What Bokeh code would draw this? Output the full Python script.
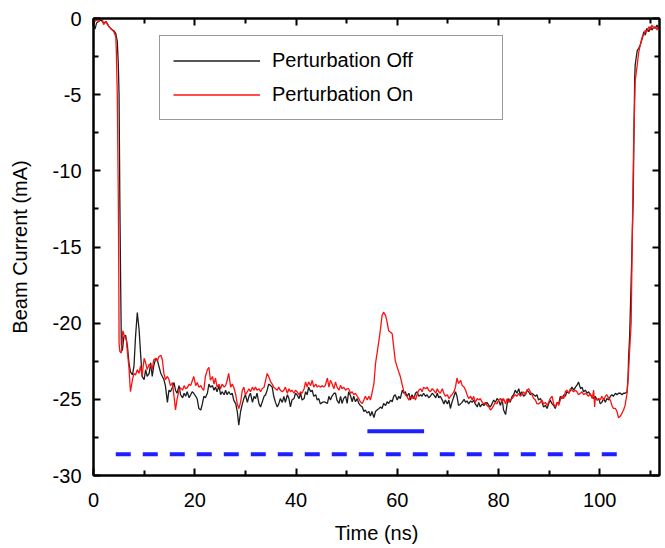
from bokeh.plotting import figure
from bokeh.models import LinearAxis, Range1d, Legend, LegendItem, FixedTicker
from bokeh.embed import file_html
from bokeh.resources import INLINE

# ---------------- data ----------------
# Perturbation Off (black trace): time (ns) and beam current (mA)
off_t = [
    0.0, 0.3, 0.6, 1.0, 1.5, 2.0, 2.5, 3.0, 3.5, 4.0,
    4.4, 4.7, 4.9, 5.05, 5.2, 5.35, 5.5, 5.7, 6.0, 6.35,
    6.7, 7.0, 7.3, 7.7, 8.0, 8.3, 8.65, 9.0, 9.3, 9.6,
    10.0, 10.3, 10.6, 11.0, 11.3, 11.6, 11.9, 12.3, 12.6, 12.9,
    13.3, 13.6, 13.9, 14.2, 14.6, 14.9, 15.2, 15.6, 15.9, 16.2,
    16.5, 16.9, 17.2, 17.6, 17.9, 18.2, 18.5, 18.9, 19.2, 19.5,
    19.8, 20.2, 20.5, 20.8, 21.2, 21.5, 21.8, 22.1, 22.5,
    22.8, 23.1, 23.5, 23.8, 24.1, 24.4, 24.8, 25.1, 25.4, 25.8,
    26.1, 26.4, 26.7, 27.1, 27.4, 27.7, 28.1, 28.4, 28.7, 29.05,
    29.4, 29.7, 30.0, 30.4, 30.7, 31.0, 31.4, 31.7, 32.0, 32.3,
    32.7, 33.0, 33.3, 33.7, 34.0, 34.3, 34.6, 35.0, 35.3, 35.6,
    35.95, 36.3, 36.6, 36.9, 37.3, 37.6, 37.9, 38.3, 38.6, 38.9,
    39.2, 39.6, 39.9, 40.2, 40.6, 40.9, 41.2, 41.6, 41.9, 42.2,
    42.5, 42.9, 43.2, 43.5, 43.9, 44.2, 44.5, 44.8, 45.2,
    45.5, 45.8, 46.2, 46.5, 46.8, 47.1, 47.5, 47.8, 48.1, 48.5,
    48.8, 49.1, 49.4, 49.8, 50.1, 50.4, 50.8, 51.1, 51.4, 51.75,
    52.1, 52.4, 52.7, 53.1, 53.4, 53.7, 54.05, 54.4, 54.7, 55.0,
    55.4, 55.7, 56.0, 56.4, 56.7, 57.0, 57.3, 57.7, 58.0, 58.3,
    58.7, 59.0, 59.3, 59.6, 60.0, 60.3, 60.6, 61.0, 61.3, 61.6,
    61.9, 62.3, 62.6, 62.9, 63.3, 63.6, 63.9, 64.25, 64.6, 64.9,
    65.2, 65.6, 65.9, 66.2, 66.55, 66.9, 67.2, 67.6, 67.9, 68.2,
    68.5,
    68.9, 69.2, 69.5, 69.9, 70.2, 70.5, 70.8, 71.2, 71.5, 71.8,
    72.1, 72.5, 72.8, 73.2, 73.5, 73.8, 74.1, 74.5, 74.8, 75.1,
    75.4, 75.8, 76.1, 76.4, 76.8, 77.1, 77.4, 77.7, 78.1, 78.4,
    78.7, 79.05, 79.4, 79.7, 80.0, 80.4, 80.7, 81.0, 81.4, 81.7,
    82.0, 82.3, 82.7, 83.0, 83.3, 83.65, 84.0, 84.3, 84.6, 84.95,
    85.3, 85.6, 85.95, 86.3, 86.6, 86.95, 87.3, 87.6, 87.9, 88.3,
    88.6, 88.9, 89.25, 89.6, 89.9, 90.2, 90.6,
    90.9, 91.2, 91.6, 91.9, 92.2, 92.5, 92.9, 93.2, 93.5, 93.9,
    94.2, 94.5, 94.85, 95.2, 95.5, 95.8, 96.2, 96.5, 96.8, 97.15,
    97.5, 97.8, 98.1, 98.5, 98.8, 99.1, 99.5, 99.8, 100.1, 100.4,
    100.8, 101.1, 101.4, 101.8, 102.1, 102.4, 102.7, 103.1, 103.4, 103.7,
    104.1, 104.4, 104.7, 105.0, 105.4, 105.6, 105.7, 105.9, 106.3, 106.6,
    106.9, 107.0, 107.4, 107.7, 108.0, 108.4, 108.7, 109.0, 109.3, 109.7,
    110.0, 110.3, 110.7, 111.0, 111.3, 111.6,
]
off_i = [
    -0.4, -0.7, -0.3, -0.2, -0.1, -0.3, -0.2, -0.5, -0.7, -0.8,
    -1.0, -1.5, -3.0, -5.0, -11.8, -17.0, -21.4, -21.8, -20.9, -20.8,
    -21.5, -22.6, -23.2, -23.4, -22.8, -20.9, -19.3, -20.4, -22.0, -23.5,
    -23.7, -23.05, -23.5, -23.3, -22.6, -23.5, -22.8, -22.3, -22.4, -22.8,
    -23.3, -23.5, -23.7, -24.1, -25.2, -24.4, -24.5, -24.2, -23.9, -24.4,
    -24.6, -24.1, -24.7, -24.9, -24.6, -24.8, -24.5, -24.9, -24.7, -24.5,
    -24.6, -24.8, -25.0, -25.6, -25.7, -25.3, -24.8, -24.9, -24.6,
    -24.0, -24.2, -24.1, -24.4, -24.2, -24.5, -24.1, -24.7, -24.5, -24.7,
    -24.4, -24.7, -24.5, -24.7, -24.6, -25.05, -25.3, -25.8, -26.7, -25.8,
    -25.3, -24.95, -24.7, -25.2, -24.8, -24.6, -25.2, -24.8, -24.95, -24.6,
    -25.3, -25.5, -25.2, -24.8, -24.7, -24.4, -24.0, -24.1, -24.2, -24.8,
    -25.2, -25.5, -25.3, -24.95, -25.2, -24.8, -25.2, -24.7, -24.95, -25.5,
    -25.05, -24.95, -24.6, -24.7, -24.95, -24.6, -25.05, -24.95, -24.5, -24.7,
    -24.2, -24.5, -24.4, -24.8, -24.7, -25.05, -24.95, -25.3, -25.2,
    -25.16, -25.2, -25.27, -24.8, -25.05, -24.8, -24.6, -24.6, -25.05, -25.27,
    -24.8, -25.27, -24.95, -24.8, -25.27, -24.5, -24.8, -25.16, -24.8, -25.16,
    -24.95, -25.27, -25.4, -25.5, -25.8, -25.7, -25.9, -25.8, -26.1, -25.8,
    -26.2, -25.8, -25.7, -25.6, -25.5, -25.6, -25.27, -25.4, -25.16, -25.27,
    -25.05, -25.16, -24.8, -24.7, -25.05, -24.8, -24.95, -24.4, -24.6, -24.5,
    -24.8, -24.6, -25.05, -24.7, -24.95, -24.6, -24.5, -24.8, -24.7, -24.8,
    -24.6, -24.8, -24.7, -24.9, -24.8, -24.6, -24.7, -24.9, -24.6, -24.9,
    -24.8,
    -25.05, -25.3, -25.05, -25.3, -25.05, -25.6, -25.2, -24.8, -24.5, -24.8,
    -25.4, -25.3, -25.2, -25.0, -25.2, -25.1, -25.3, -25.1, -25.2, -25.05,
    -25.3, -25.5, -25.2, -25.5, -25.3, -25.4, -25.3, -25.2, -25.4, -25.5,
    -25.3, -25.05, -25.2, -24.95, -25.05, -25.4, -24.95, -25.7, -26.0, -25.3,
    -24.95, -25.2, -24.8, -24.7, -24.4, -24.6, -24.3, -24.7, -24.5, -24.8,
    -24.7, -24.4, -24.5, -24.7, -24.6, -24.7, -24.8, -24.7, -25.05, -24.95,
    -25.2, -25.5, -25.4, -25.6, -25.3, -25.05, -25.3,
    -25.4, -25.6, -25.2, -25.3, -24.8, -24.95, -24.7, -24.8, -24.5, -24.6,
    -24.4, -24.2, -24.4, -24.2, -24.07, -23.86, -24.3, -24.2, -24.5, -24.4,
    -24.6, -24.5, -24.7, -24.8, -24.95, -24.8, -25.05, -24.95, -25.3, -25.2,
    -24.95, -25.2, -24.95, -25.05, -24.8, -24.7, -24.8, -24.6, -24.7, -24.6,
    -24.6, -24.7, -24.6, -24.6, -24.5, -23.5, -22.2, -20.9, -16.0, -11.8,
    -3.9, -3.05, -2.1, -1.96, -1.74, -1.3, -0.87, -1.09, -0.65, -0.87,
    -0.54, -0.76, -0.54, -0.65, -0.43, -0.65,
]

# Perturbation On (red trace)
on_t = [
    0.0, 0.5, 1.0, 1.3, 1.7, 2.0, 2.4, 2.8, 3.1, 3.7,
    4.05, 4.4, 4.5, 4.7, 4.9, 5.0, 5.05, 5.2, 5.5, 5.8,
    6.15, 6.5, 6.7, 7.0, 7.3, 7.7, 8.0, 8.3, 8.65, 9.0,
    9.3, 9.6, 10.0, 10.3, 10.6, 11.0, 11.3, 11.6, 11.9, 12.3,
    12.6, 12.9, 13.3, 13.6, 13.9, 14.2, 14.6, 14.9, 15.2, 15.6,
    15.9, 16.2, 16.5, 16.9, 17.2, 17.6, 17.9, 18.2, 18.5, 18.9,
    19.2, 19.5, 19.8, 20.2, 20.5, 20.8, 21.2, 21.5, 21.8, 22.1,
    22.5,
    22.8, 23.1, 23.5, 23.8, 24.1, 24.4, 24.8, 25.1, 25.4, 25.8,
    26.1, 26.4, 26.7, 27.1, 27.4, 27.7, 28.1, 28.4, 28.7, 29.05,
    29.4, 29.7, 30.0, 30.4, 30.7, 31.0, 31.4, 31.7, 32.0, 32.3,
    32.7, 33.0, 33.3, 33.7, 34.0, 34.3, 34.6, 35.0, 35.3, 35.6,
    35.95, 36.3, 36.6, 36.9, 37.3, 37.6, 37.9, 38.3, 38.6, 38.9,
    39.2, 39.6, 39.9, 40.2, 40.6, 40.9, 41.2, 41.6, 41.9, 42.2,
    42.5, 42.9, 43.2, 43.5, 43.9, 44.2, 44.5, 44.8, 45.2,
    45.5, 45.8, 46.2, 46.5, 46.8, 47.1, 47.5, 47.8, 48.1, 48.5,
    48.8, 49.1, 49.4, 49.8, 50.1, 50.4, 50.8, 51.1, 51.4, 51.75,
    52.1, 52.4, 52.7, 53.1, 53.4, 53.7, 54.05, 54.4, 54.7, 55.0,
    55.4, 55.7, 56.0, 56.4, 56.7, 57.0, 57.3, 57.7, 58.0, 58.3,
    58.7, 59.0, 59.3, 59.6, 60.0, 60.3, 60.6, 61.0, 61.3, 61.6,
    61.9, 62.3, 62.6, 62.9, 63.3, 63.6, 63.9, 64.25, 64.6, 64.9,
    65.2, 65.6, 65.9, 66.2, 66.55, 66.9, 67.2, 67.6, 67.9, 68.2,
    68.5,
    68.9, 69.2, 69.5, 69.9, 70.2, 70.5, 70.8, 71.2, 71.5, 71.8,
    72.1, 72.5, 72.8, 73.2, 73.5, 73.8, 74.1, 74.5, 74.8, 75.1,
    75.4, 75.8, 76.1, 76.4, 76.8, 77.1, 77.4, 77.7, 78.1, 78.4,
    78.7, 79.05, 79.4, 79.7, 80.0, 80.4, 80.7, 81.0, 81.4, 81.7,
    82.0, 82.3, 82.7, 83.0, 83.3, 83.65, 84.0, 84.3, 84.6, 84.95,
    85.3, 85.6, 85.95, 86.3, 86.6, 86.95, 87.3, 87.6, 87.9, 88.3,
    88.6, 88.9, 89.25, 89.6, 89.9, 90.2, 90.6,
    90.9, 91.2, 91.6, 91.9, 92.2, 92.5, 92.9, 93.2, 93.5, 93.9,
    94.2, 94.5, 94.85, 95.2, 95.5, 95.8, 96.2, 96.5, 96.8, 97.15,
    97.5, 97.8, 98.1, 98.5, 98.8, 99.0, 99.1, 99.5, 99.8, 100.1,
    100.4, 100.8, 101.1, 101.4, 101.8, 102.1, 102.4, 102.7, 103.1, 103.4,
    103.7, 104.1, 104.4, 104.7, 105.0, 105.4, 105.7, 105.9, 106.2, 106.45,
    106.7, 107.0, 107.4, 107.7, 108.0, 108.4, 108.7, 109.0, 109.3, 109.7,
    110.0, 110.3, 110.7, 111.0, 111.3, 111.6,
]
on_i = [
    -0.3, -0.1, -0.2, 0.0, 0.0, -0.4, -0.2, -0.4, -0.55, -0.75,
    -0.9, -1.2, -2.0, -5.0, -11.8, -17.0, -21.3, -21.85, -21.96, -20.5,
    -20.9, -21.1, -21.9, -22.9, -24.5, -23.7, -23.3, -23.4, -23.05, -23.3,
    -22.8, -23.5, -22.3, -22.6, -23.05, -22.7, -22.8, -23.05, -22.4, -22.3,
    -22.5, -22.2, -22.1, -22.4, -23.3, -23.7, -23.5, -23.7, -24.1, -23.9,
    -24.8, -25.7, -25.0, -24.4, -24.25, -24.4, -24.1, -24.3, -24.25, -24.0,
    -24.1, -23.8, -23.5, -24.1, -23.9, -24.2, -24.1, -24.3, -24.4, -23.5,
    -23.05,
    -22.9, -23.75, -23.5, -24.0, -23.6, -24.2, -24.0, -24.3, -24.0, -24.2,
    -24.1, -23.75, -23.3, -24.2, -24.0, -24.2, -24.7, -25.3, -25.6, -25.2,
    -24.4, -24.2, -24.7, -24.5, -24.3, -24.5, -24.2, -24.4, -24.2, -24.4,
    -24.3, -24.5, -24.3, -24.2, -23.75, -23.3, -23.5, -23.86, -24.0, -24.2,
    -24.3, -24.4, -24.2, -24.4, -24.5, -24.4, -24.2, -24.6, -24.3, -24.5,
    -24.4, -24.6, -24.4, -24.5, -24.7, -24.5, -24.6, -24.3, -23.86, -24.2,
    -23.86, -24.1, -23.75, -24.2, -24.0, -24.2, -24.1, -24.2, -24.1,
    -24.2, -24.07, -23.6, -24.2, -23.75, -23.96, -24.3, -23.86, -24.2, -24.4,
    -24.07, -24.3, -24.2, -24.4, -24.3, -24.3, -24.6, -24.5, -24.7, -24.6,
    -24.8, -24.95, -25.16, -25.27, -25.05, -24.8, -25.05, -24.8, -25.05, -24.6,
    -23.96, -22.66, -22.0, -21.1, -20.37, -19.5, -19.28, -19.5, -19.93, -20.5,
    -20.6, -20.7, -21.57, -22.44, -22.9, -23.2, -23.5, -24.07, -24.5, -24.7,
    -24.8, -25.05, -24.8, -24.95, -24.8, -25.05, -24.7, -24.4, -24.3, -24.5,
    -24.2, -24.3, -24.2, -24.4, -24.5, -24.3, -24.4, -24.6, -24.3, -24.5,
    -24.6,
    -24.3, -24.6, -24.8, -24.7, -24.95, -24.8, -24.7, -24.5, -24.2, -23.6,
    -23.96, -23.75, -24.07, -24.2, -24.4, -24.7, -24.95, -24.8, -25.05, -24.8,
    -25.2, -24.95, -25.05, -24.95, -25.2, -25.3, -25.2, -25.4, -25.5, -25.7,
    -25.6, -25.4, -25.2, -25.3, -25.05, -24.95, -25.2, -24.95, -25.3, -24.95,
    -25.2, -25.05, -24.95, -24.8, -24.7, -24.8, -24.6, -24.8, -24.7, -24.5,
    -24.7, -24.4, -24.3, -24.5, -24.7, -24.95, -25.05, -25.3, -25.3, -25.2,
    -25.05, -25.3, -25.2, -25.4, -25.2, -24.95, -24.8,
    -25.3, -25.5, -25.2, -25.4, -25.05, -24.8, -24.95, -24.5, -24.4, -24.6,
    -24.3, -24.4, -24.5, -24.4, -24.5, -24.7, -24.6, -24.5, -24.7, -24.6,
    -24.7, -24.8, -24.6, -24.95, -24.4, -25.5, -24.95, -25.05, -24.95, -25.05,
    -24.8, -25.05, -24.8, -24.7, -24.95, -25.05, -25.4, -25.6, -25.6, -25.8,
    -26.2, -26.1, -25.9, -25.7, -25.4, -24.6, -23.1, -21.8, -20.0, -13.7,
    -8.0, -4.1, -3.05, -2.2, -1.74, -1.2, -1.09, -0.76, -0.87, -0.54,
    -0.76, -0.43, -0.65, -0.54, -0.76, -0.54,
]

# blue markers
window_t = [4.4, 105.7]       # dashed blue line
window_i = [-28.6, -28.6]
perturb_t = [54.1, 65.3]      # solid blue bar
perturb_i = [-27.1, -27.1]

x_major = [0, 20, 40, 60, 80, 100]
x_minor = [10, 30, 50, 70, 90, 110]
y_major = [-30, -25, -20, -15, -10, -5, 0]
y_labels = ["-30", "-25", "-20", "-15", "-10", "-5", "0"]
y_minor = [-27.5, -22.5, -17.5, -12.5, -7.5, -2.5]

assert len(off_t) == len(off_i)
assert len(on_t) == len(on_i)

FONT = "Liberation Sans"

p = figure(width=663, height=546,
           x_range=Range1d(0, 111.8), y_range=Range1d(-30, 0),
           output_backend="svg", toolbar_location=None,
           min_border_left=93, min_border_right=4,
           min_border_top=18, min_border_bottom=69,
           x_axis_label="Time (ns)", y_axis_label="Beam Current (mA)")

p.xgrid.visible = False
p.ygrid.visible = False
p.outline_line_color = "black"
p.outline_line_width = 2
p.background_fill_color = "white"
p.border_fill_color = "white"

xt = FixedTicker(ticks=x_major, minor_ticks=x_minor)
yt = FixedTicker(ticks=y_major, minor_ticks=y_minor)

def style_axis(ax, labels=True):
    ax.axis_line_color = "black"
    ax.axis_line_width = 2
    ax.major_tick_in = 7
    ax.major_tick_out = 0
    ax.minor_tick_in = 5
    ax.minor_tick_out = 0
    ax.major_tick_line_width = 2
    ax.minor_tick_line_width = 2
    ax.major_tick_line_color = "black"
    ax.minor_tick_line_color = "black"
    if labels:
        ax.major_label_text_font = FONT
        ax.major_label_text_font_size = "20px"
        ax.major_label_text_color = "black"
        ax.axis_label_text_font = FONT
        ax.axis_label_text_font_size = "20px"
        ax.axis_label_text_font_style = "normal"
        ax.axis_label_text_color = "black"
    else:
        ax.major_label_text_font_size = "1px"
        ax.major_label_text_color = None
        ax.major_label_standoff = 0

p.xaxis.ticker = xt
p.yaxis.ticker = yt
style_axis(p.xaxis[0])
style_axis(p.yaxis[0])
p.yaxis.major_label_overrides = dict(zip(y_major, y_labels))
p.xaxis.major_label_standoff = 17
p.xaxis.axis_label_standoff = 12
p.yaxis.major_label_standoff = 12
p.yaxis.axis_label_standoff = 19

top_ax = LinearAxis(ticker=xt)
style_axis(top_ax, labels=False)
p.add_layout(top_ax, "above")
right_ax = LinearAxis(ticker=yt)
style_axis(right_ax, labels=False)
p.add_layout(right_ax, "right")

# traces
r_off = p.line(off_t, off_i, line_color="#1e1e1e", line_width=1.3)
r_on = p.line(on_t, on_i, line_color="#ff1010", line_width=1.3)

# blue markers
p.line(window_t, window_i, line_color="#1f1fff", line_width=4, line_dash="15 12")
p.line(perturb_t, perturb_i, line_color="#1f1fff", line_width=4)

legend = Legend(items=[LegendItem(label="Perturbation Off", renderers=[r_off]),
                       LegendItem(label="Perturbation On", renderers=[r_on])],
                location=(66, 355))
legend.padding = 13
legend.spacing = 11
legend.margin = 0
legend.glyph_width = 87
legend.glyph_height = 23
legend.label_height = 23
legend.label_width = 217
legend.label_standoff = 12
legend.label_text_font = FONT
legend.label_text_font_size = "20px"
legend.label_text_color = "black"
legend.border_line_color = "#333333"
legend.border_line_width = 1
legend.background_fill_color = "white"
legend.background_fill_alpha = 1
p.add_layout(legend)

open("out.html", "w").write(file_html(p, INLINE))
